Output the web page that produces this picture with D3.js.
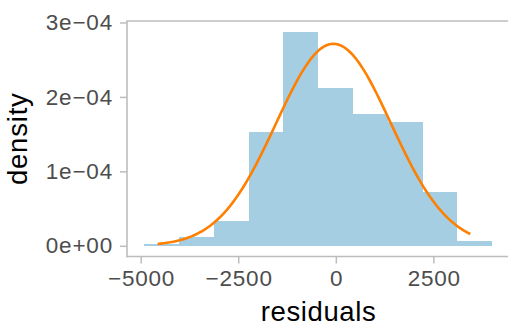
<!DOCTYPE html>
<html>
<head>
<meta charset="utf-8">
<script src="https://cdn.jsdelivr.net/npm/d3@7"></script>
<style>
  html, body { margin: 0; padding: 0; background: #fff; }
  svg { display: block; }
</style>
</head>
<body>
<svg id="chart"></svg>
<script>
// histogram of residuals with a fitted normal density on top

const binEdges = [-4905, -4014, -3123, -2232, -1341, -450, 441, 1332, 2223, 3114, 4005];
const binDensity = [2.2e-6, 1.17e-5, 3.31e-5, 1.523e-4, 2.876e-4, 2.126e-4, 1.764e-4, 1.657e-4, 7.2e-5, 6.0e-6];

// normal curve: peak position / height and the data range it spans
const curveMean = -60;
const curveSd = 1470;
const curveFrom = -4565;
const curveTo = 3445;

const xTicks = [-5000, -2500, 0, 2500];
const yTicks = [0, 1e-4, 2e-4, 3e-4];
const yTickLabels = ["0e+00", "1e\u221204", "2e\u221204", "3e\u221204"];

const W = 508, H = 325;
const font = "'Liberation Sans', Arial, Helvetica, sans-serif";
const axisColor = "#bdbdbd";
const tickText = "#4d4d4d";

const svg = d3.select("#chart").attr("width", W).attr("height", H);

const panel = { left: 127, right: 509.5, top: 21, bottom: 256.5 };

// ggplot-like 5% expansion
const xMin = binEdges[0], xMax = binEdges[binEdges.length - 1];
const xPad = (xMax - xMin) * 0.05;
const x = d3.scaleLinear().domain([xMin - xPad, xMax + xPad]).range([panel.left, panel.right]);

const yTop = d3.max(binDensity);
const y = d3.scaleLinear().domain([-yTop * 0.05, yTop * 1.05]).range([panel.bottom, panel.top]);

const bins = binDensity.map((d, i) => ({ x0: binEdges[i], x1: binEdges[i + 1], density: d }));

// bars
svg.append("g")
  .selectAll("rect")
  .data(bins)
  .join("rect")
  .attr("x", (d) => x(d.x0))
  .attr("width", (d) => x(d.x1) - x(d.x0))
  .attr("y", (d) => y(d.density))
  .attr("height", (d) => y(0) - y(d.density))
  .attr("fill", "#a6cee3")
  .attr("shape-rendering", "crispEdges");

// density curve
const dnorm = (v) => Math.exp(-0.5 * ((v - curveMean) / curveSd) ** 2) / (curveSd * Math.sqrt(2 * Math.PI));
const curvePts = d3.range(0, 101).map((i) => {
  const v = curveFrom + (curveTo - curveFrom) * i / 100;
  return [v, dnorm(v)];
});

svg.append("path")
  .datum(curvePts)
  .attr("fill", "none")
  .attr("stroke", "#ff7f00")
  .attr("stroke-width", 2.6)
  .attr("d", d3.line().x((d) => x(d[0])).y((d) => y(d[1])));

// axes
const gx = svg.append("g")
  .attr("transform", `translate(0,${panel.bottom})`)
  .call(d3.axisBottom(x).tickValues(xTicks).tickFormat((d) => d < 0 ? "\u2212" + Math.abs(d) : String(d))
    .tickSize(7).tickPadding(7).tickSizeOuter(0));

const gy = svg.append("g")
  .attr("transform", `translate(${panel.left},0)`)
  .call(d3.axisLeft(y).tickValues(yTicks).tickFormat((d, i) => yTickLabels[i])
    .tickSize(7).tickPadding(7).tickSizeOuter(0));

[gx, gy].forEach((g) => {
  g.select(".domain").remove();
  g.selectAll(".tick line").attr("stroke", axisColor).attr("stroke-width", 1.5);
  g.selectAll(".tick text")
    .attr("fill", tickText)
    .style("font-family", font)
    .style("font-size", "22.5px")
    .style("letter-spacing", "0.8px");
});
gx.selectAll(".tick text").attr("dx", "0.4px");

// axis lines: left, bottom and top border
const lines = svg.append("g").attr("stroke", axisColor).attr("stroke-width", 1.6).attr("fill", "none");
lines.append("line").attr("x1", panel.left).attr("x2", panel.left).attr("y1", panel.top).attr("y2", panel.bottom + 0.8);
lines.append("line").attr("x1", panel.left - 0.8).attr("x2", W).attr("y1", panel.bottom).attr("y2", panel.bottom);
lines.append("line").attr("x1", panel.left - 0.8).attr("x2", W).attr("y1", panel.top).attr("y2", panel.top);

// titles
svg.append("text")
  .attr("x", (panel.left + panel.right) / 2 + 0.3)
  .attr("y", 320.5)
  .attr("text-anchor", "middle")
  .attr("fill", "#000")
  .style("font-family", font)
  .style("font-size", "27.5px")
  .style("letter-spacing", "0.6px")
  .text("residuals");

svg.append("text")
  .attr("transform", `translate(27,${(panel.top + panel.bottom) / 2}) rotate(-90)`)
  .attr("text-anchor", "middle")
  .attr("fill", "#000")
  .style("font-family", font)
  .style("font-size", "27.5px")
  .style("letter-spacing", "0.8px")
  .text("density");
</script>
</body>
</html>
